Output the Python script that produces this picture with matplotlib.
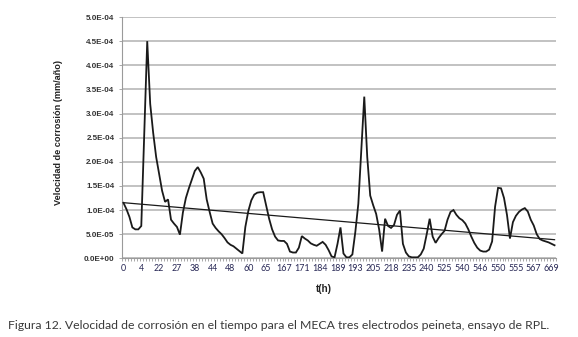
import numpy as np
import matplotlib
matplotlib.use("Agg")
import matplotlib.pyplot as plt
from matplotlib.ticker import FixedLocator, FuncFormatter

# Velocidad de corrosión (x1e-4 mm/año), one value per measurement
velocidad_e4 = [
    1.15, 1.02, 0.86, 0.64, 0.60, 0.60, 0.67, 2.60, 4.50, 3.20,
    2.60, 2.10, 1.75, 1.40, 1.17, 1.22, 0.80, 0.72, 0.65, 0.49,
    0.95, 1.25, 1.45, 1.63, 1.81, 1.89, 1.78, 1.65, 1.22, 0.96,
    0.72, 0.63, 0.56, 0.50, 0.42, 0.33, 0.28, 0.25, 0.20, 0.15,
    0.10, 0.65, 0.98, 1.20, 1.32, 1.36, 1.37, 1.37, 1.10, 0.82,
    0.60, 0.45, 0.37, 0.36, 0.36, 0.30, 0.14, 0.12, 0.12, 0.22,
    0.46, 0.41, 0.37, 0.31, 0.28, 0.26, 0.30, 0.34, 0.28, 0.17,
    0.04, 0.02, 0.30, 0.64, 0.10, 0.02, 0.02, 0.08, 0.55, 1.13,
    2.25, 3.35, 2.10, 1.30, 1.10, 0.92, 0.60, 0.14, 0.82, 0.67,
    0.63, 0.69, 0.90, 0.99, 0.30, 0.12, 0.04, 0.02, 0.02, 0.02,
    0.08, 0.20, 0.50, 0.82, 0.45, 0.32, 0.42, 0.50, 0.57, 0.80,
    0.96, 1.00, 0.90, 0.83, 0.79, 0.72, 0.60, 0.45, 0.32, 0.22,
    0.16, 0.14, 0.14, 0.18, 0.35, 1.07, 1.46, 1.45, 1.25, 0.90,
    0.41, 0.75, 0.88, 0.96, 1.01, 1.04, 0.97, 0.80, 0.68, 0.50,
    0.40, 0.37, 0.35, 0.33, 0.30, 0.27,
]
# t(h) labels shown on the category axis (every 6th category)
t_labels = ["0", "4", "22", "27", "38", "44", "48", "60", "65", "167", "171",
            "184", "189", "193", "205", "218", "235", "240", "525", "540",
            "546", "550", "555", "567", "669"]
label_step = 6

y_ticks = [0.0, 5e-5, 1e-4, 1.5e-4, 2e-4, 2.5e-4, 3e-4, 3.5e-4, 4e-4, 4.5e-4, 5e-4]

vals = np.array(velocidad_e4) * 1e-4
n = len(vals)
idx = np.arange(n)

fig = plt.figure(figsize=(5.78, 3.37), dpi=100)
ax = fig.add_axes([0.211, 0.2335, 0.751, 0.716])

ax.plot(idx, vals, color="#1a1a1a", lw=1.3, solid_joinstyle="miter", zorder=3)
coef = np.polyfit(idx, vals, 1)
ax.plot([0, n - 1], np.polyval(coef, [0, n - 1]), color="#1a1a1a", lw=0.9, zorder=3)

ax.set_xlim(-0.5, n - 0.5)
ax.set_ylim(0, 5e-4)
ax.set_yticks(y_ticks)
ax.yaxis.set_major_formatter(FuncFormatter(lambda v, p: f"{v:.1E}"))
ax.grid(axis="y", color="#bdbdbd", lw=1.3)
ax.set_axisbelow(True)

label_pos = [i * label_step for i in range(len(t_labels))]
ax.set_xticks(label_pos)
ax.set_xticklabels(t_labels)
ax.xaxis.set_minor_locator(FixedLocator(np.arange(-0.5, n, 1.0)))
ax.tick_params(axis="x", which="major", length=0, pad=4, labelsize=6.4,
               labelcolor="#262654")
ax.tick_params(axis="x", which="minor", length=2.5, width=0.6, color="#9a9a9a")
ax.tick_params(axis="y", length=2.5, width=0.6, color="#9a9a9a", pad=3,
               labelsize=5.8, labelcolor="#333333")
for lab in ax.get_yticklabels():
    lab.set_fontweight("bold")
    lab.set_family("Liberation Sans")
for lab in ax.get_xticklabels():
    lab.set_family("Lato")

for s in ["top", "right"]:
    ax.spines[s].set_visible(False)
for s in ["left", "bottom"]:
    ax.spines[s].set_color("#9a9a9a")
    ax.spines[s].set_linewidth(0.8)

fig.text(0.1005, 0.607, "Velocidad de corrosión (mm/año)", rotation=90,
         ha="center", va="center", fontsize=6.6, fontweight="bold",
         family="Liberation Sans", color="#222222")
fig.text(0.561, 0.142, "t(h)", ha="center", va="center", fontsize=7,
         fontweight="bold", family="Liberation Sans", color="#222222")
fig.text(0.014, 0.035,
         "Figura 12. Velocidad de corrosión en el tiempo para el MECA tres electrodos peineta, ensayo de RPL.",
         ha="left", va="center", fontsize=8.8, family="Lato", color="#3a3a3a")

fig.savefig("out.png", dpi=100)
